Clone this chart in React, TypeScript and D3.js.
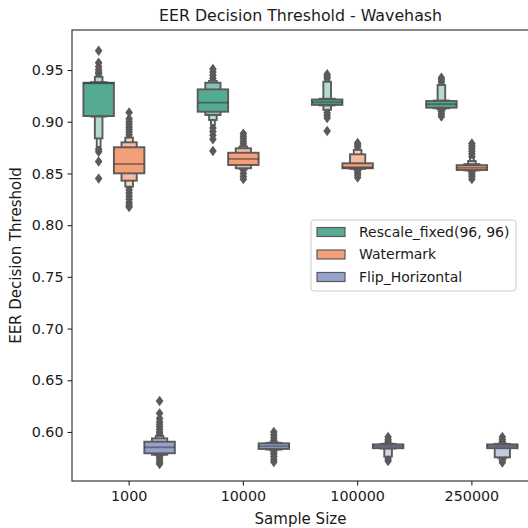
import React, { useEffect, useRef } from 'react';
import * as d3 from 'd3';

const categories = ['1000', '10000', '100000', '250000'];
const seriesNames = ['Rescale_fixed(96, 96)', 'Watermark', 'Flip_Horizontal'];
const seriesColors = ['#55aa93', '#f29f7a', '#95a2cb'];
const yTicks = [0.6, 0.65, 0.7, 0.75, 0.8, 0.85, 0.9, 0.95];

// letter values per sample size, [low, high], innermost (quartiles) first
const rescaleLevels = [
  [[0.9055, 0.9377], [0.905, 0.9382], [0.8839, 0.9435], [0.8757, 0.945]],
  [[0.9097, 0.9313], [0.9065, 0.9377], [0.9017, 0.9395], [0.8968, 0.94]],
  [[0.9163, 0.9215], [0.9158, 0.9222], [0.9115, 0.9387], [0.91, 0.9405]],
  [[0.9136, 0.92], [0.913, 0.9205], [0.912, 0.9355], [0.911, 0.937]],
];
const rescaleMedians = [0.9372, 0.9184, 0.9188, 0.917];
const rescaleOutliers = [
  [0.9687, 0.957, 0.9535, 0.9505, 0.948, 0.9465, 0.8735, 0.871, 0.8615, 0.845],
  [0.942, 0.945, 0.948, 0.951, 0.894, 0.8905, 0.887, 0.883, 0.8717],
  [0.942, 0.944, 0.946, 0.9085, 0.906, 0.9035, 0.891],
  [0.9385, 0.9405, 0.9425, 0.91, 0.9075, 0.905],
];

const watermarkLevels = [
  [[0.8501, 0.8753], [0.843, 0.8801], [0.8372, 0.8846], [0.836, 0.8855]],
  [[0.8582, 0.87], [0.855, 0.8743], [0.8545, 0.876], [0.854, 0.877]],
  [[0.855, 0.8598], [0.8545, 0.8685], [0.854, 0.8727], [0.8535, 0.874]],
  [[0.8533, 0.858], [0.853, 0.859], [0.8527, 0.862], [0.8525, 0.865]],
];
const watermarkMedians = [0.8591, 0.864, 0.856, 0.8555];
const watermarkOutliers = [
  [0.8875, 0.89, 0.8925, 0.895, 0.8975, 0.9, 0.903, 0.909, 0.834, 0.831, 0.828, 0.825, 0.822, 0.8195, 0.8175],
  [0.8785, 0.881, 0.8835, 0.886, 0.8885, 0.853, 0.85, 0.847, 0.8445],
  [0.8755, 0.8775, 0.8795, 0.8525, 0.8505, 0.8485, 0.846],
  [0.8665, 0.869, 0.8715, 0.874, 0.8765, 0.879, 0.851, 0.849, 0.847, 0.8445],
];

const flipLevels = [
  [[0.5794, 0.5906], [0.578, 0.5938], [0.5775, 0.5961], [0.577, 0.5968]],
  [[0.5836, 0.589], [0.583, 0.5895], [0.5825, 0.59], [0.582, 0.5905]],
  [[0.5843, 0.588], [0.584, 0.5885], [0.5762, 0.5888], [0.5755, 0.589]],
  [[0.5843, 0.588], [0.5755, 0.5885], [0.5745, 0.5888]],
];
const flipMedians = [0.5852, 0.5862, 0.5862, 0.5862];
const flipOutliers = [
  [0.598, 0.6, 0.6025, 0.605, 0.6075, 0.61, 0.613, 0.618, 0.63, 0.576, 0.574, 0.572, 0.57, 0.569],
  [0.592, 0.5945, 0.597, 0.6, 0.5805, 0.5785, 0.576, 0.5735, 0.571],
  [0.5905, 0.5925, 0.5952, 0.574, 0.572],
  [0.5905, 0.5925, 0.5952, 0.5725, 0.5705],
];

const App = () => {
  const chartRef = useRef<SVGSVGElement | null>(null);

  useEffect(() => {
    const svg = d3.select(chartRef.current);
    svg.selectAll('*').remove();

    const font = 'DejaVu Sans, sans-serif';
    const gray = '#5a5a5a';
    const left = 72, right = 529, top = 30, bottom = 481;

    const x = d3.scaleBand().domain(categories).range([left, right]);
    const hue = d3.scaleBand().domain(seriesNames).range([0, x.bandwidth()]).paddingOuter(0.375);
    const y = d3.scaleLinear().domain([0.5526, 0.9887]).range([bottom, top]);

    const series = [
      { levels: rescaleLevels, medians: rescaleMedians, outliers: rescaleOutliers },
      { levels: watermarkLevels, medians: watermarkMedians, outliers: watermarkOutliers },
      { levels: flipLevels, medians: flipMedians, outliers: flipOutliers },
    ];

    const plot = svg.append('g');

    series.forEach((s, si) => {
      const base = seriesColors[si];
      const mix = d3.interpolateRgb(base, '#ffffff');
      categories.forEach((c, ci) => {
        const w = hue.bandwidth();
        const cx = (x(c) as number) + (hue(seriesNames[si]) as number) + w / 2;

        // outliers (thin diamonds)
        plot.selectAll(null)
          .data(s.outliers[ci])
          .enter()
          .append('path')
          .attr('d', (v) => {
            const cy = y(v);
            return `M${cx},${cy - 5.2}L${cx + 3.8},${cy}L${cx},${cy + 5.2}L${cx - 3.8},${cy}Z`;
          })
          .attr('fill', gray);

        const lv = s.levels[ci];
        const k = lv.length;
        // outermost first so the wide inner box sits on top
        for (let i = k - 1; i >= 0; i--) {
          const [lo, hi] = lv[i];
          const bw = w * Math.pow(2, -i);
          plot.append('rect')
            .attr('x', cx - bw / 2)
            .attr('y', y(hi))
            .attr('width', bw)
            .attr('height', Math.max(0.01, y(lo) - y(hi)))
            .attr('fill', mix(0.85 * (k > 1 ? i / (k - 1) : 0)))
            .attr('stroke', gray)
            .attr('stroke-width', 1.9);
        }

        plot.append('line')
          .attr('x1', cx - w / 2)
          .attr('x2', cx + w / 2)
          .attr('y1', y(s.medians[ci]))
          .attr('y2', y(s.medians[ci]))
          .attr('stroke', '#262626')
          .attr('stroke-opacity', 0.45)
          .attr('stroke-width', 1.9);
      });
    });

    // axes
    const yAxis = svg.append('g')
      .attr('transform', `translate(${left},0)`)
      .call(d3.axisLeft(y).tickValues(yTicks).tickFormat(d3.format('.2f')).tickSize(4.5).tickSizeOuter(0).tickPadding(4));
    const xAxis = svg.append('g')
      .attr('transform', `translate(0,${bottom})`)
      .call(d3.axisBottom(x).tickSize(4.5).tickSizeOuter(0).tickPadding(5));

    [yAxis, xAxis].forEach((a) => {
      a.select('.domain').remove();
      a.selectAll('line').attr('stroke', '#262626').attr('stroke-width', 1.1);
      a.selectAll('text').attr('font-family', font).attr('font-size', 14.3).attr('fill', '#1a1a1a');
    });

    svg.append('rect')
      .attr('x', left)
      .attr('y', top)
      .attr('width', right - left)
      .attr('height', bottom - top)
      .attr('fill', 'none')
      .attr('stroke', '#262626')
      .attr('stroke-width', 1.1);

    svg.append('text')
      .attr('x', (left + right) / 2)
      .attr('y', 21)
      .attr('text-anchor', 'middle')
      .attr('font-family', font)
      .attr('font-size', 15.8)
      .attr('fill', '#1a1a1a')
      .text('EER Decision Threshold - Wavehash');

    svg.append('text')
      .attr('x', (left + right) / 2)
      .attr('y', 524)
      .attr('text-anchor', 'middle')
      .attr('font-family', font)
      .attr('font-size', 15)
      .attr('fill', '#1a1a1a')
      .text('Sample Size');

    svg.append('text')
      .attr('transform', `translate(21,${(top + bottom) / 2}) rotate(-90)`)
      .attr('text-anchor', 'middle')
      .attr('font-family', font)
      .attr('font-size', 15)
      .attr('fill', '#1a1a1a')
      .text('EER Decision Threshold');

    // legend
    const legend = svg.append('g');
    legend.append('rect')
      .attr('x', 311)
      .attr('y', 220)
      .attr('width', 205)
      .attr('height', 71)
      .attr('rx', 3)
      .attr('fill', 'white')
      .attr('fill-opacity', 0.8)
      .attr('stroke', '#cccccc');
    seriesNames.forEach((name, i) => {
      const cy = 232 + i * 22.5;
      legend.append('rect')
        .attr('x', 317)
        .attr('y', cy - 4.5)
        .attr('width', 28)
        .attr('height', 9)
        .attr('fill', seriesColors[i])
        .attr('stroke', gray)
        .attr('stroke-width', 1.2);
      legend.append('text')
        .attr('x', 359)
        .attr('y', cy)
        .attr('dy', '0.35em')
        .attr('font-family', font)
        .attr('font-size', 14)
        .attr('fill', '#1a1a1a')
        .text(name);
    });

    return () => {
      svg.selectAll('*').remove();
    };
  }, []);

  return (
    <svg
      ref={chartRef}
      width={528}
      height={528}
      style={{ position: 'absolute', left: 0, top: 0, background: 'white' }}
    />
  );
};

export default App;
